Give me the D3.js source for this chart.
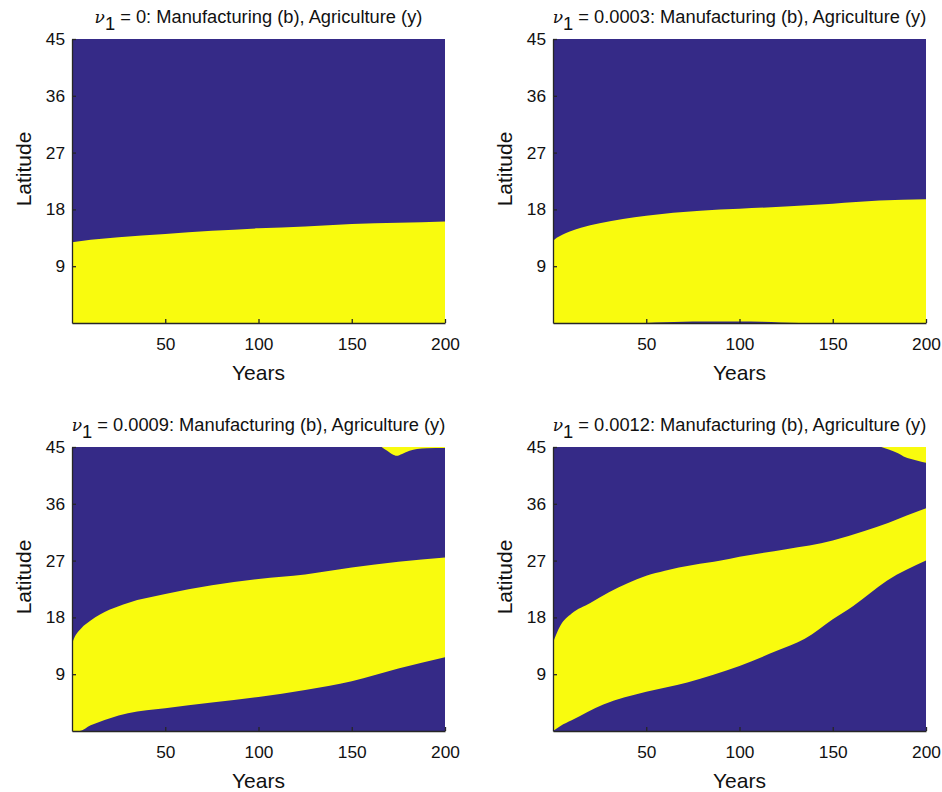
<!DOCTYPE html>
<html>
<head>
<meta charset="utf-8">
<script src="https://cdn.jsdelivr.net/npm/d3@7"></script>
<style>
  body { margin: 0; background: #fff; }
  svg { display: block; }
</style>
</head>
<body>
<script>
// Tick values and panel labels
const xTicks = [50, 100, 150, 200];
const yTicks = [9, 18, 27, 36, 45];
const nuLabels = ["0", "0.0003", "0.0009", "0.0012"];

// Boundaries of the agriculture (yellow) band, latitude by year.
// Panel 1: nu1 = 0
const p1UpperYears = [0, 10, 25, 50, 75, 100, 125, 150, 175, 200];
const p1UpperLat   = [12.8, 13.2, 13.6, 14.1, 14.6, 15.0, 15.3, 15.7, 15.9, 16.1];
const p1LowerYears = [0, 200];
const p1LowerLat   = [0, 0];

// Panel 2: nu1 = 0.0003
const p2UpperYears = [0, 2, 5, 9, 15, 25, 50, 79, 100, 127, 150, 175, 200];
const p2UpperLat   = [13.0, 13.5, 14.0, 14.5, 15.1, 15.8, 17.0, 17.8, 18.1, 18.5, 18.9, 19.4, 19.6];
const p2LowerYears = [0, 50, 55, 65, 75, 100, 112, 122, 132, 200];
const p2LowerLat   = [0, 0, 0.08, 0.15, 0.22, 0.22, 0.18, 0.08, 0, 0];

// Panel 3: nu1 = 0.0009
const p3UpperYears = [0, 1, 2, 5, 10, 20, 30, 50, 75, 100, 125, 150, 175, 200];
const p3UpperLat   = [13.8, 14.6, 15.2, 16.3, 17.5, 19.2, 20.3, 21.7, 23.1, 24.1, 24.8, 25.9, 26.8, 27.5];
const p3LowerYears = [0, 4, 10, 20, 30, 50, 75, 100, 125, 150, 175, 200];
const p3LowerLat   = [0, 0, 0.9, 2.0, 2.8, 3.6, 4.5, 5.4, 6.5, 7.9, 9.9, 11.7];
const p3TopYears   = [166, 169, 172, 174, 177, 181, 185, 190, 200];
const p3TopLat     = [45, 44.4, 43.8, 43.6, 43.9, 44.4, 44.7, 44.8, 44.85];

// Panel 4: nu1 = 0.0012
const p4UpperYears = [0, 2, 4, 10, 20, 30, 40, 50, 60, 75, 90, 100, 125, 150, 167, 180, 190, 200];
const p4UpperLat   = [14.0, 15.5, 16.7, 18.6, 20.3, 22.0, 23.4, 24.6, 25.4, 26.3, 27.0, 27.6, 28.8, 30.2, 31.7, 33.0, 34.2, 35.3];
const p4LowerYears = [0, 4, 10, 27, 50, 72, 100, 120, 135, 150, 161, 179, 200];
const p4LowerLat   = [0, 0.8, 1.7, 4.2, 6.2, 7.7, 10.3, 12.7, 14.6, 17.7, 19.8, 23.8, 27.0];
const p4TopYears   = [176, 180, 185, 188, 192, 196, 200];
const p4TopLat     = [45, 44.6, 44.0, 43.5, 43.1, 42.8, 42.5];

const BLUE = "#352A87";
const YELLOW = "#F9FB0E";
const INK = "#262626";
const FONT = "'Liberation Sans', Arial, Helvetica, sans-serif";

const zip = (xs, ys) => xs.map((x, i) => ({ year: x, lat: ys[i] }));

const panels = [
  { nu: nuLabels[0], left: 72,  top: 39,  labelX: 31,  upper: zip(p1UpperYears, p1UpperLat), lower: zip(p1LowerYears, p1LowerLat), topPatch: null },
  { nu: nuLabels[1], left: 553, top: 39,  labelX: 512, upper: zip(p2UpperYears, p2UpperLat), lower: zip(p2LowerYears, p2LowerLat), topPatch: null },
  { nu: nuLabels[2], left: 72,  top: 447, labelX: 31,  upper: zip(p3UpperYears, p3UpperLat), lower: zip(p3LowerYears, p3LowerLat), topPatch: zip(p3TopYears, p3TopLat) },
  { nu: nuLabels[3], left: 553, top: 447, labelX: 512, upper: zip(p4UpperYears, p4UpperLat), lower: zip(p4LowerYears, p4LowerLat), topPatch: zip(p4TopYears, p4TopLat) }
];

const plotW = 373, plotH = 284;

const svg = d3.select("body").append("svg")
  .attr("width", 942).attr("height", 792)
  .attr("font-family", FONT);

panels.forEach((p, i) => {
  const g = svg.append("g").attr("transform", `translate(${p.left},${p.top})`);
  const x = d3.scaleLinear().domain([0, 200]).range([0, plotW]);
  const y = d3.scaleLinear().domain([0, 45]).range([plotH, 0]);

  const clipId = "clip" + i;
  g.append("clipPath").attr("id", clipId)
    .append("rect").attr("width", plotW).attr("height", plotH);

  const plot = g.append("g").attr("clip-path", `url(#${clipId})`);

  // manufacturing background
  plot.append("rect")
    .attr("x", x(0)).attr("y", y(45))
    .attr("width", x(200) - x(0)).attr("height", y(0) - y(45))
    .attr("fill", BLUE);

  // agriculture band: fill up to upper boundary
  const areaBelow = d3.area()
    .x(d => x(d.year)).y0(y(0)).y1(d => y(d.lat))
    .curve(d3.curveMonotoneX);
  plot.append("path").datum(p.upper).attr("d", areaBelow).attr("fill", YELLOW);

  // manufacturing below the band's lower boundary
  plot.append("path").datum(p.lower).attr("d", areaBelow).attr("fill", BLUE);

  // agriculture at high latitude
  if (p.topPatch) {
    const areaAbove = d3.area()
      .x(d => x(d.year)).y0(y(45)).y1(d => y(d.lat))
      .curve(d3.curveMonotoneX);
    plot.append("path").datum(p.topPatch).attr("d", areaAbove).attr("fill", YELLOW);
  }

  // axes with inward ticks
  const xAxis = d3.axisBottom(x).tickValues(xTicks).tickSizeInner(-4).tickSizeOuter(0).tickPadding(15);
  const yAxis = d3.axisLeft(y).tickValues(yTicks).tickSizeInner(-4).tickSizeOuter(0).tickPadding(7);

  const gx = g.append("g").attr("transform", `translate(0,${plotH})`).call(xAxis);
  const gy = g.append("g").call(yAxis);
  [gx, gy].forEach(a => {
    a.select(".domain").attr("stroke", INK).attr("stroke-width", 1.3);
    a.selectAll(".tick line").attr("stroke", INK).attr("stroke-width", 1.3);
    a.selectAll(".tick text").attr("fill", "#111").attr("font-size", 17.3).attr("font-family", FONT);
  });

  // axis labels
  g.append("text")
    .attr("x", plotW / 2).attr("y", plotH + 57)
    .attr("text-anchor", "middle").attr("font-size", 21).attr("fill", "#111")
    .text("Years");
  g.append("text")
    .attr("transform", `translate(${p.labelX - p.left},${plotH / 2 - 12}) rotate(-90)`)
    .attr("text-anchor", "middle").attr("font-size", 21).attr("fill", "#111")
    .text("Latitude");

  // title with subscripted nu
  const t = g.append("text")
    .attr("x", plotW / 2).attr("y", -16.3)
    .attr("text-anchor", "middle").attr("font-size", 18.3).attr("fill", "#111");
  t.append("tspan").attr("font-style", "italic").attr("font-family", "'DejaVu Serif', serif").attr("font-size", 17).text("ν");
  t.append("tspan").attr("dy", 7).text("1");
  t.append("tspan").attr("dy", -7).text(` = ${p.nu}: Manufacturing (b), Agriculture (y)`);
});
</script>
</body>
</html>
